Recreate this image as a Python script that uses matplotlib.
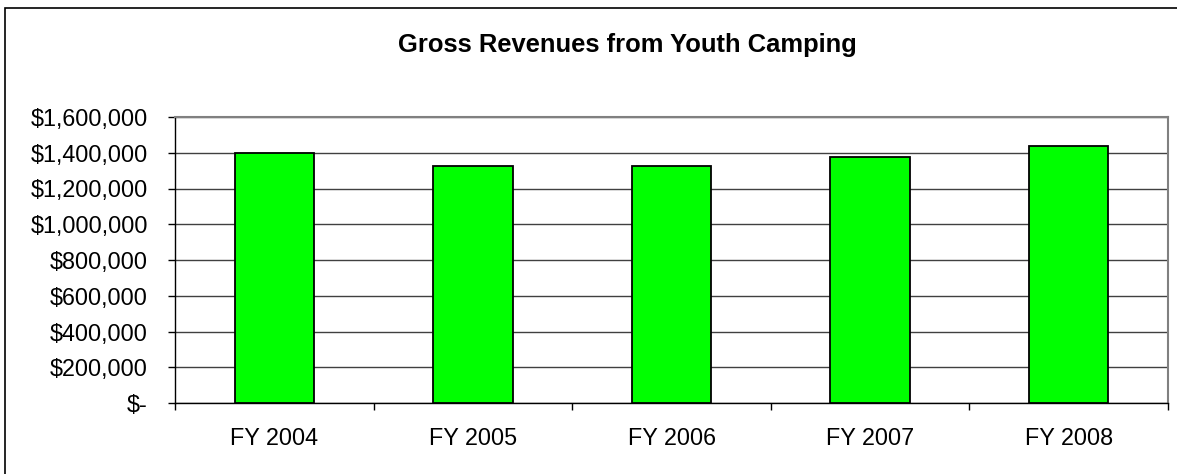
import matplotlib.pyplot as plt
import matplotlib.ticker as mtick
from matplotlib.patches import Rectangle

plt.rcParams['font.family'] = ['Liberation Sans', 'DejaVu Sans']

years = ['FY 2004', 'FY 2005', 'FY 2006', 'FY 2007', 'FY 2008']
revenues = [1400000, 1328000, 1326000, 1377000, 1439000]

fig = plt.figure(figsize=(11.77, 4.74), dpi=100)
W, H = 1177, 474
# plot area in pixels: left, right, top, bottom
L, R, T, B = 175, 1168, 117, 403
ax = fig.add_axes([L / W, 1 - B / H, (R - L) / W, (B - T) / H])

x = range(len(years))
ax.bar(x, revenues, width=0.40, color='#00ff00', edgecolor='black',
       linewidth=1.3, zorder=3)

ax.set_xlim(-0.5, len(years) - 0.5)
ax.set_ylim(0, 1600000)
ax.yaxis.set_major_locator(mtick.MultipleLocator(200000))


def money(v, pos):
    if v == 0:
        return '$-'
    return '${:,.0f}'.format(v)


ax.yaxis.set_major_formatter(mtick.FuncFormatter(money))
ax.grid(axis='y', color='#404040', linewidth=1.0, zorder=0)

# category labels centred, ticks on the category boundaries
ax.set_xticks(list(x))
ax.set_xticklabels(years)
ax.set_xticks([i - 0.5 for i in range(len(years) + 1)], minor=True)
ax.tick_params(axis='x', which='major', length=0, pad=17, labelsize=16.8)
ax.tick_params(axis='x', which='minor', length=5, width=1, direction='out')
ax.tick_params(axis='y', length=5, width=1, direction='out', pad=14.5,
               labelsize=16.8)

for side in ['left', 'bottom']:
    ax.spines[side].set_color('black')
    ax.spines[side].set_linewidth(1.0)
for side in ['top', 'right']:
    ax.spines[side].set_color('#808080')
    ax.spines[side].set_linewidth(1.5)

fig.text(627 / W, 1 - 45 / H, 'Gross Revenues from Youth Camping',
         ha='center', va='center', fontsize=18.4, fontweight='bold')

# chart frame, cut off on the right and bottom
fig.patches.append(Rectangle((4.5 / W, -0.1), 1.2, 1 - 8.5 / H + 0.1,
                             transform=fig.transFigure, fill=False,
                             edgecolor='black', linewidth=1.2))

fig.savefig('out.png', dpi=100)
